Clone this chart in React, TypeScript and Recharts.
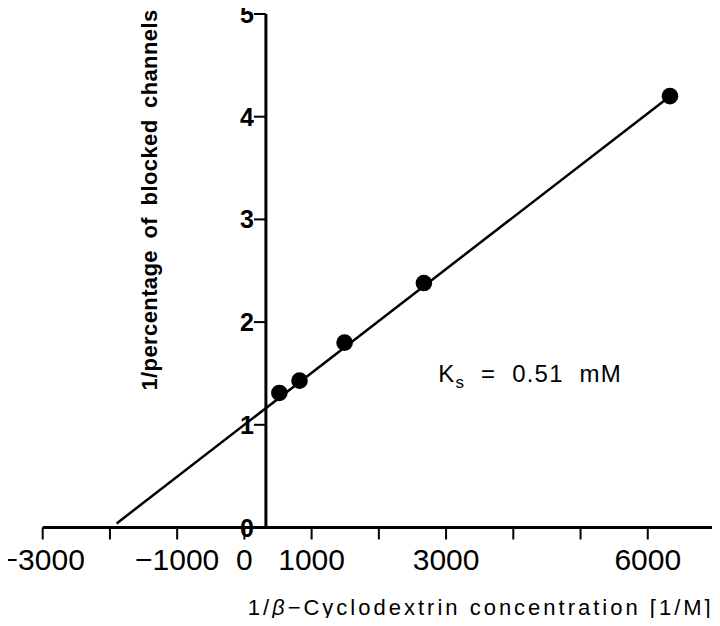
import React from 'react';
import { ComposedChart, Line, Scatter, XAxis, YAxis, ReferenceLine, ReferenceDot, Label } from 'recharts';

// 1/[beta-cyclodextrin] (1/M) and 1/percentage of blocked channels
const CONC_INV = [520, 820, 1490, 2670, 6330];
const BLOCK_INV = [1.31, 1.43, 1.8, 2.38, 4.2];

// fitted line, drawn from near the x-intercept to the last point
const FIT_X = [-1900, 6330];
const FIT_Y = [0.04, 4.2];

const X_TICKS = [-3000, -2000, -1000, 0, 1000, 2000, 3000, 4000, 5000, 6000, 7000];
const X_LABELED = [-3000, -1000, 0, 1000, 3000, 6000];
const Y_TICKS = [0, 1, 2, 3, 4, 5];

const Y_AXIS_AT = 320;
const KS_AT = { x: 4250, y: 1.42 };

const points = CONC_INV.map((x, i) => ({ x, y: BLOCK_INV[i] }));
const fit = FIT_X.map((x, i) => ({ x, y: FIT_Y[i] }));

const NARROW = "'Liberation Sans Narrow', 'Arial Narrow', 'Liberation Sans', Arial, sans-serif";
const SANS = "'Liberation Sans', Arial, sans-serif";

const fmtX = (v: number) => (X_LABELED.includes(v) ? (v < 0 ? '\u2212' + Math.abs(v) : String(v)) : '');

const XTitle = (props: any) => {
  const { x, y, height } = props.viewBox;
  return (
    <text x={x + 205} y={y + height - 2.5} textAnchor="start" fontFamily={SANS} fontSize={22} letterSpacing={3} fill="#000">
      1/<tspan fontStyle="italic">β</tspan>{'\u2212'}Cyclodextrin concentration [1/M]
    </text>
  );
};

const YTitle = (props: any) => {
  const { x, y, width } = props.viewBox;
  const cx = x + width + 107;
  const cy = y + 186;
  return (
    <text x={cx} y={cy} transform={`rotate(-90, ${cx}, ${cy})`} textAnchor="middle" dy="0.35em"
      fontFamily={SANS} fontWeight="bold" fontSize={22} letterSpacing={0.4} wordSpacing={5} fill="#000">
      1/percentage of blocked channels
    </text>
  );
};

const yTick = (v: number) => (props: any) => {
  const { cx, cy } = props;
  return (
    <g>
      <line x1={cx - 12} y1={cy} x2={cx} y2={cy} stroke="#000" strokeWidth={2} />
      <text x={cx - 12} y={cy} dy="0.36em" textAnchor="end" fontFamily={SANS} fontWeight="bold" fontSize={25} fill="#000">
        {v}
      </text>
    </g>
  );
};

const ksLabel = (props: any) => {
  const { cx, cy } = props;
  return (
    <text x={cx} y={cy} textAnchor="middle" fontFamily={SANS} fontSize={24} letterSpacing={1.2} wordSpacing={8} fill="#000">
      K<tspan fontSize={17} dy={6}>s</tspan><tspan dy={-6}> = 0.51 mM</tspan>
    </text>
  );
};

const dot = (props: any) => <circle cx={props.cx} cy={props.cy} r={8.3} fill="#000" />;

export default function App() {
  return (
    <div style={{ width: 720, height: 626, margin: -8, background: '#fff' }}>
      <ComposedChart width={720} height={626} margin={{ top: 14, right: 5, bottom: 8.5, left: 0 }}>
        <XAxis
          type="number"
          dataKey="x"
          domain={[-3000, 7000]}
          ticks={X_TICKS}
          interval={0}
          tickFormatter={fmtX}
          height={90}
          axisLine={{ stroke: '#000', strokeWidth: 3 }}
          tickLine={{ stroke: '#000', strokeWidth: 2 }}
          tickSize={12}
          tickMargin={9}
          tick={{ fill: '#000', fontSize: 30, fontFamily: NARROW }}
          allowDataOverflow
        >
          <Label content={XTitle} />
        </XAxis>
        <YAxis
          type="number"
          dataKey="y"
          domain={[0, 5]}
          width={42.7}
          axisLine={false}
          tickLine={false}
          tick={false}
          allowDataOverflow
        >
          <Label content={YTitle} />
        </YAxis>
        <ReferenceLine x={Y_AXIS_AT} stroke="#000" strokeWidth={3} />
        <Line data={fit} dataKey="y" type="linear" stroke="#000" strokeWidth={2.5} dot={false} activeDot={false} isAnimationActive={false} />
        <Scatter data={points} dataKey="y" fill="#000" shape={dot} isAnimationActive={false} />
        {Y_TICKS.map((v) => (
          <ReferenceDot key={v} x={Y_AXIS_AT} y={v} r={0} shape={yTick(v)} />
        ))}
        <ReferenceDot x={KS_AT.x} y={KS_AT.y} r={0} shape={ksLabel} />
      </ComposedChart>
    </div>
  );
}
